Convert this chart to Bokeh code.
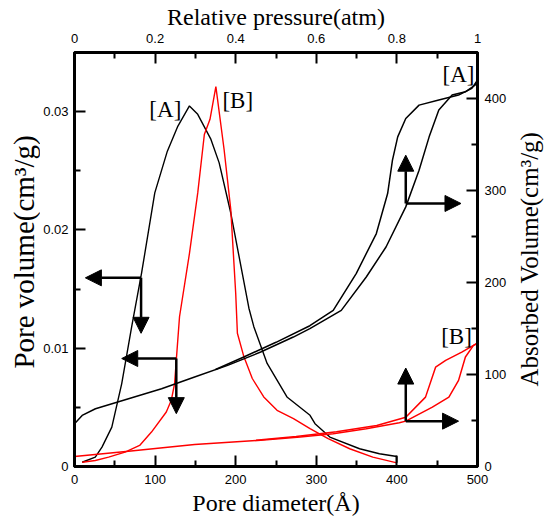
import math

from bokeh.plotting import figure
from bokeh.layouts import row
from bokeh.models import (Range1d, LinearAxis, FixedTicker, NumeralTickFormatter,
                          Arrow, NormalHead, Label)
from bokeh.core.properties import value
from bokeh.embed import file_html
from bokeh.resources import INLINE

# ---- pore size distribution (bottom axis: diameter in Å, left axis: cm3/g) ----
psd_a_diam = [9.5, 25.8, 34.1, 46.3, 58.6, 70.9, 83.2, 99.6, 115.2, 128.3, 142.6,
              152.9, 169.3, 179.5, 193.9, 216.4, 222.5, 239.0, 263.6, 292.2, 298.4,
              316.8, 353.7, 378.3, 400.0, 400.0]
psd_a_vol = [0.00036, 0.00079, 0.00164, 0.00333, 0.00701, 0.01181, 0.01634, 0.02313,
             0.02666, 0.02878, 0.03048, 0.02977, 0.02765, 0.02567, 0.02143, 0.01338,
             0.01182, 0.00871, 0.00588, 0.00433, 0.00362, 0.00249, 0.00150, 0.00108,
             0.00085, 0.00031]

psd_b_diam = [9.5, 25.8, 42.3, 62.7, 80.8, 95.5, 113.9, 120.1, 124.2, 126.3, 130.3,
              142.6, 152.9, 161.1, 168.1, 175.4, 185.6, 193.9, 200.0, 202.1, 210.2,
              220.6, 234.8, 251.3, 271.7, 292.2, 314.7, 341.4, 370.1, 400.0]
psd_b_vol = [0.00036, 0.00051, 0.00079, 0.00121, 0.00178, 0.00291, 0.00461, 0.00560,
             0.00701, 0.00899, 0.01266, 0.01800, 0.02313, 0.02807, 0.02935, 0.03212,
             0.02680, 0.02171, 0.01465, 0.01126, 0.00927, 0.00744, 0.00588, 0.00475,
             0.00405, 0.00320, 0.00235, 0.00150, 0.00079, 0.00031]

# ---- isotherms (top axis: relative pressure, right axis: adsorbed volume) ----
iso_a_ads_p = [0.0, 0.019, 0.052, 0.134, 0.216, 0.298, 0.380, 0.462, 0.543, 0.584,
               0.662, 0.724, 0.773, 0.822, 0.855, 0.880, 0.904, 0.937, 0.970, 0.994, 1.0]
iso_a_ads_v = [46.5, 55.5, 62.8, 73.7, 84.5, 97.2, 109.9, 124.4, 140.7, 149.8,
               169.7, 206.0, 238.6, 282.2, 322.1, 358.3, 387.4, 403.7, 407.3, 414.6, 420.0]
iso_a_des_p = [1.0, 0.986, 0.953, 0.904, 0.855, 0.822, 0.802, 0.789, 0.777, 0.749,
               0.699, 0.642, 0.584, 0.50, 0.42, 0.35]
iso_a_des_v = [420.0, 411.0, 403.7, 398.3, 392.8, 378.3, 358.3, 333.0, 296.7, 253.2,
               209.7, 169.7, 153.0, 135.0, 119.0, 105.5]

iso_b_ads_p = [0.0, 0.134, 0.298, 0.462, 0.56, 0.642, 0.724, 0.806, 0.822, 0.888,
               0.929, 0.953, 0.970, 0.99, 1.0]
iso_b_ads_v = [11.0, 16.6, 23.9, 28.5, 32.0, 35.6, 41.0, 47.5, 49.3, 64.5,
               75.4, 93.6, 119.0, 131.7, 134.0]
iso_b_des_p = [1.0, 0.99, 0.961, 0.921, 0.896, 0.871, 0.822, 0.75, 0.65, 0.55, 0.45]
iso_b_des_v = [134.0, 131.7, 124.4, 115.3, 108.0, 75.4, 53.6, 44.5, 37.8, 32.5, 28.5]

# ---- axis ticks ----
diam_ticks = [0, 100, 200, 300, 400, 500]
diam_minor = [50, 150, 250, 350, 450]
vol_ticks = [0, 0.01, 0.02, 0.03]
vol_minor = [0.005, 0.015, 0.025]
pres_ticks = [0, 0.2, 0.4, 0.6, 0.8, 1.0]
pres_minor = [0.1, 0.3, 0.5, 0.7, 0.9]
ads_ticks = [0, 100, 200, 300, 400]
ads_minor = [50, 150, 250, 350]

# ---- pointer arrows: (origin x, origin y, horizontal tip x, vertical tip y) ----
arrow_psd_a = (82.6, 0.01595, 13.5, 0.01126)
arrow_psd_b = (126.3, 0.00913, 58.6, 0.00447)
arrow_iso_a = (0.822, 285.9, 0.959, 338.4)
arrow_iso_b = (0.822, 49.3, 0.953, 107.0)

# ---- sample tags ----
tags_psd = [("[A]", 112.7, 0.0302), ("[B]", 202.5, 0.03096)]
tags_iso = [("[A]", 0.953, 426.5), ("[B]", 0.948, 141.5)]

SERIF = "Liberation Serif"
SANS = "Liberation Sans"
H = 519
LEFT_W, RIGHT_W = 40, 37
MAIN_W = 546 - LEFT_W - RIGHT_W


def title_strip(width, text, x, y, size):
    """Narrow blank figure that carries a vertical axis title reading upward."""
    f = figure(width=width, height=H, x_range=Range1d(0, width), y_range=Range1d(0, H),
               x_axis_location=None, y_axis_location=None,
               output_backend="svg", toolbar_location=None,
               min_border=0, min_border_left=0, min_border_right=0,
               min_border_top=0, min_border_bottom=0)
    f.grid.grid_line_color = None
    f.outline_line_color = None
    f.background_fill_color = "white"
    f.border_fill_color = "white"
    f.text(x=[x], y=[H - y], text=[text], angle=math.pi / 2,
           text_font=value(SERIF), text_font_size=value(size), text_color="black",
           text_align="center", text_baseline="middle")
    return f


p = figure(width=MAIN_W, height=H,
           x_range=Range1d(0, 500), y_range=Range1d(0, 0.035),
           x_axis_location=None, y_axis_location=None,
           output_backend="svg", toolbar_location=None,
           min_border_left=72 - LEFT_W, min_border_right=MAIN_W - (479 - LEFT_W),
           min_border_top=52, min_border_bottom=53)
p.extra_x_ranges = {"pres": Range1d(0, 1)}
p.extra_y_ranges = {"ads": Range1d(0, 450)}
p.grid.grid_line_color = None
p.outline_line_color = "black"
p.outline_line_width = 3
p.background_fill_color = "white"
p.border_fill_color = "white"


def style_axis(ax, ticks, minor, fmt, standoff):
    ax.ticker = FixedTicker(ticks=ticks, minor_ticks=minor)
    ax.formatter = NumeralTickFormatter(format=fmt)
    ax.axis_line_width = 3
    ax.axis_line_color = "black"
    ax.major_tick_in = 11
    ax.major_tick_out = 0
    ax.minor_tick_in = 6
    ax.minor_tick_out = 0
    ax.major_tick_line_width = 2
    ax.minor_tick_line_width = 2
    ax.major_tick_line_color = "black"
    ax.minor_tick_line_color = "black"
    ax.major_label_text_font = SANS
    ax.major_label_text_font_size = "13px"
    ax.major_label_text_color = "black"
    ax.major_label_standoff = standoff
    ax.axis_label_text_font = SERIF
    ax.axis_label_text_font_style = "normal"
    ax.axis_label_text_font_size = "24px"
    ax.axis_label_text_color = "black"


ax_bottom = LinearAxis(axis_label="Pore diameter(Å)")
style_axis(ax_bottom, diam_ticks, diam_minor, "0", 8)
ax_bottom.axis_label_standoff = 3
p.add_layout(ax_bottom, "below")

ax_left = LinearAxis()
style_axis(ax_left, vol_ticks, vol_minor, "0.[00]", 6)
p.add_layout(ax_left, "left")

ax_top = LinearAxis(x_range_name="pres", axis_label="Relative pressure(atm)")
style_axis(ax_top, pres_ticks, pres_minor, "0.[0]", 10)
ax_top.axis_label_standoff = 1
p.add_layout(ax_top, "above")

ax_right = LinearAxis(y_range_name="ads")
style_axis(ax_right, ads_ticks, ads_minor, "0", 7)
p.add_layout(ax_right, "right")

# pore size distributions
p.line(psd_a_diam, psd_a_vol, line_color="black", line_width=1.4)
p.line(psd_b_diam, psd_b_vol, line_color="red", line_width=1.4)

# isotherms with hysteresis loops
for xs, ys, col in [(iso_a_ads_p, iso_a_ads_v, "black"), (iso_a_des_p, iso_a_des_v, "black"),
                    (iso_b_ads_p, iso_b_ads_v, "red"), (iso_b_des_p, iso_b_des_v, "red")]:
    p.line(xs, ys, line_color=col, line_width=1.5,
           x_range_name="pres", y_range_name="ads")


def add_pointer(spec, x_range_name="default", y_range_name="default"):
    x0, y0, xt, yt = spec
    common = dict(line_color="black", line_width=2.5,
                  x_range_name=x_range_name, y_range_name=y_range_name)
    p.add_layout(Arrow(x_start=x0, y_start=y0, x_end=xt, y_end=y0,
                       end=NormalHead(size=16, fill_color="black", line_color="black"),
                       **common))
    p.add_layout(Arrow(x_start=x0, y_start=y0, x_end=x0, y_end=yt,
                       end=NormalHead(size=16, fill_color="black", line_color="black"),
                       **common))


add_pointer(arrow_psd_a)
add_pointer(arrow_psd_b)
add_pointer(arrow_iso_a, "pres", "ads")
add_pointer(arrow_iso_b, "pres", "ads")

for txt, x, y in tags_psd:
    p.add_layout(Label(x=x, y=y, text=txt, text_font=SERIF, text_font_size="23px",
                       text_align="center", text_baseline="middle", text_color="black"))
for txt, x, y in tags_iso:
    p.add_layout(Label(x=x, y=y, text=txt, text_font=SERIF, text_font_size="23px",
                       text_align="center", text_baseline="middle", text_color="black",
                       x_range_name="pres", y_range_name="ads"))

left_title = title_strip(LEFT_W, "Pore volume(cm³/g)", 23, 250, "29px")
right_title = title_strip(RIGHT_W, "Absorbed Volume(cm³/g)", 529 - (LEFT_W + MAIN_W), 259, "25px")

layout = row(left_title, p, right_title, spacing=0)
open("out.html", "w").write(file_html(layout, INLINE))
